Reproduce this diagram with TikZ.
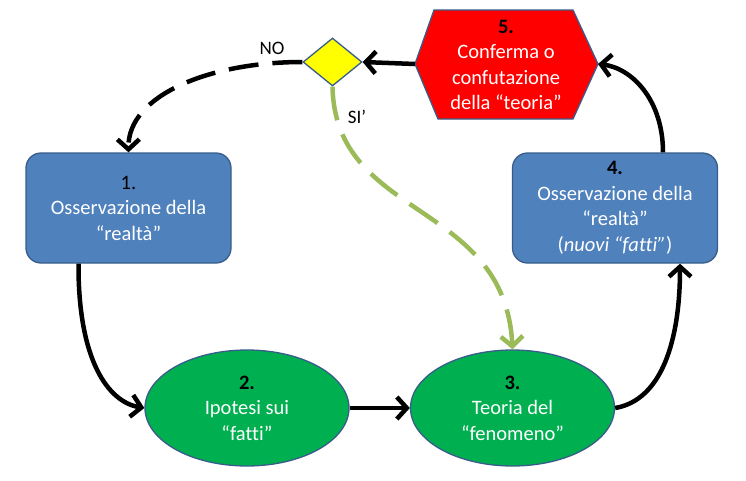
\documentclass[tikz,border=0pt]{standalone}
\usepackage{fontspec}
\setmainfont[Ligatures=NoCommon]{Carlito}
\usetikzlibrary{shapes.geometric,arrows.meta}
\definecolor{boxblue}{HTML}{4F81BD}
\definecolor{edgeblue}{HTML}{385D8A}
\definecolor{ellgreen}{HTML}{00B050}
\definecolor{linegreen}{HTML}{9BBB59}
\definecolor{hexred}{HTML}{FF0000}
\definecolor{diayellow}{HTML}{FFFF00}
\tikzset{
  txt/.style={font=\fontsize{20.5}{25.5}\selectfont, text=white, align=center},
  bluebox/.style={txt, draw=edgeblue, line width=1.3pt, fill=boxblue, rounded corners=15pt,
    minimum width=205pt, minimum height=110pt, inner sep=0pt},
  greenell/.style={txt, ellipse, draw=edgeblue, line width=1.3pt, fill=ellgreen,
    minimum width=204pt, minimum height=116pt, inner sep=0pt},
  conn/.style={line width=4.5pt, -{Straight Barb[length=10pt,width=22pt,line width=4.5pt]}},
  dashconn/.style={conn, dash pattern=on 30pt off 14pt},
  lbl/.style={font=\fontsize{19}{23}\selectfont, text=black}
}
\begin{document}
\begin{tikzpicture}[x=1pt,y=-1pt]
\useasboundingbox (0,0) rectangle (746,480);
% nodes
\node[bluebox] (n1) at (128.5,208) {\textcolor{black}{1.}\\Osservazione della\\“realtà”};
\node[bluebox] (n4) at (615,208) {\textcolor{black}{\textbf{4.}}\\Osservazione della\\“realtà”\\(\textit{nuovi “fatti”})};
\node[greenell] (n2) at (247,408) {\textcolor{black}{\textbf{2.}}\\Ipotesi sui\\“fatti”};
\node[greenell] (n3) at (512.5,408) {\textcolor{black}{\textbf{3.}}\\Teoria del\\“fenomeno”};
% hexagon
\draw[draw=edgeblue, line width=1.3pt, fill=hexred]
  (434,10) -- (573,10) -- (598,64) -- (573,119) -- (438,119) -- (415,64) -- cycle;
\coordinate (h5l) at (415,64);
\coordinate (h5r) at (598,64);
\node[txt] (n5) at (506,65) {\textcolor{black}{\textbf{5.}}\\Conferma o\\confutazione\\della “teoria”};
% diamond
\node[diamond, draw=edgeblue, line width=1.3pt, fill=diayellow, inner sep=0pt,
  minimum width=59pt, minimum height=48pt] (d) at (332.5,62) {};
% connectors
\draw[conn] ([xshift=-50pt]n1.south) .. controls (78,360) and (108,402) .. (n2.west);
\draw[conn] (n2.east) -- (n3.west);
\draw[conn] (n3.east) .. controls (662,400) and (680,340) .. ([xshift=65pt]n4.south);
\draw[conn] ([xshift=48pt]n4.north) .. controls (663,100) and (632,68) .. (h5r);
\draw[conn] (h5l) -- (d.east);
\draw[dashconn] (d.west) .. controls (210,62) and (128,95) .. (n1.north);
\draw[dashconn, color=linegreen, dash pattern=on 34pt off 15pt] (d.south) .. controls (335,220) and (505,200) .. (n3.north);
% labels
\node[lbl] (no) at (272,48) {NO};
\node[lbl] (si) at (357,117) {SI’};
\end{tikzpicture}
\end{document}
